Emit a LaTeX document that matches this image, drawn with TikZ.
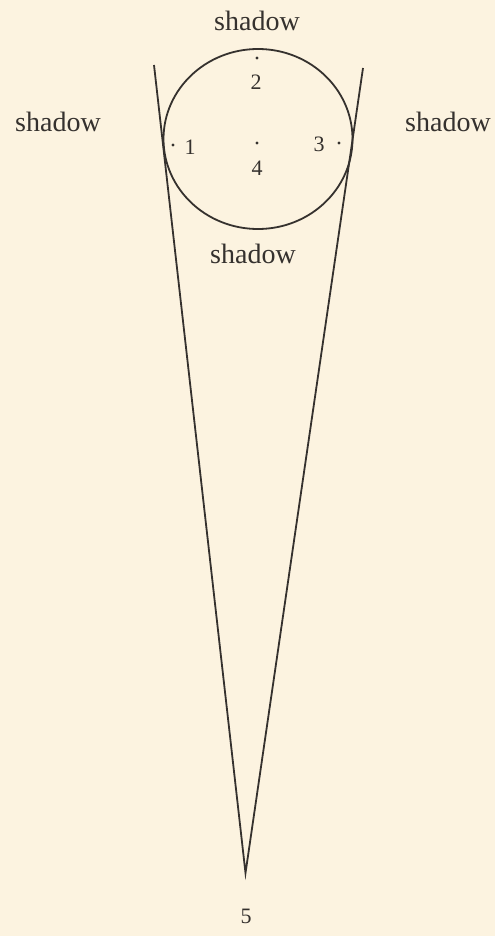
\documentclass[tikz,border=0pt]{standalone}
\usepackage{fontspec}
\usetikzlibrary{shapes.geometric}
\setmainfont{Liberation Serif}
\definecolor{paper}{HTML}{FCF3E0}
\definecolor{ink}{HTML}{35312E}
\tikzset{
  lbl/.style={text=ink, font=\fontsize{28}{30}\selectfont, inner sep=0pt},
  num/.style={text=ink, font=\fontsize{22}{24}\selectfont, inner sep=0pt},
  pt/.style={circle, fill=ink, minimum size=3.2pt, inner sep=0pt},
  ln/.style={draw=ink, line width=1.8pt}
}
\begin{document}
\begin{tikzpicture}[x=1pt,y=-1pt]
\fill[paper] (0,0) rectangle (495,936);
\useasboundingbox (0,0) rectangle (495,936);
\coordinate (lt) at (154,65);
\coordinate (rt) at (363,68);
\coordinate (apex) at (245.5,873);
\node[ln, ellipse, minimum width=189pt, minimum height=180pt, inner sep=0pt] (circ) at (258,139) {};
\draw[ln, line join=miter] (lt) -- (apex) -- (rt);
\node[pt] (d2) at (257,58) {};
\node[pt] (d4) at (257,143) {};
\node[pt] (d1) at (173,145) {};
\node[pt] (d3) at (339,143) {};
\node[num] (n2) at (256,82) {2};
\node[num] (n4) at (257,168) {4};
\node[num] (n1) at (190,147) {1};
\node[num] (n3) at (319,144) {3};
\node[num] (n5) at (246,916) {5};
\node[lbl] (st) at (257,21) {shadow};
\node[lbl] (sb) at (253,254) {shadow};
\node[lbl] (sl) at (58,122) {shadow};
\node[lbl] (sr) at (448,122) {shadow};
\end{tikzpicture}
\end{document}
